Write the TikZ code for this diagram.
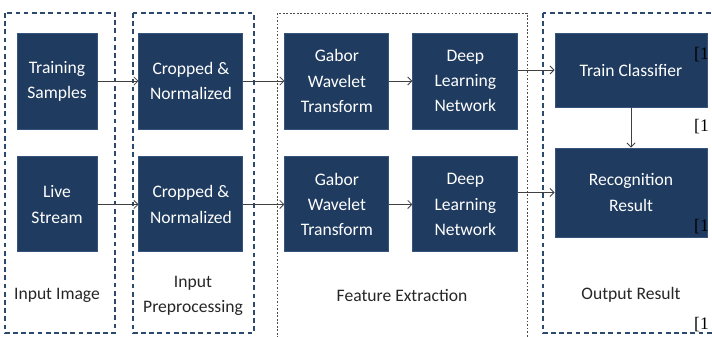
\documentclass[tikz,border=0pt]{standalone}
\usepackage{fontspec}
\setmainfont{Carlito}
\newfontfamily\citefont{Liberation Serif}
\usetikzlibrary{positioning,arrows.meta}

\definecolor{boxblue}{HTML}{1F3B5F}
\definecolor{boxedge}{HTML}{35557D}
\definecolor{stageblue}{HTML}{2C4A6E}

\begin{document}
\begin{tikzpicture}[
        x=0.03cm, y=-0.03cm,
        node distance=0.81cm and 1.23cm,
        block/.style={rectangle, draw=boxedge, line width=0.8pt, fill=boxblue, text=white, align=center, inner sep=0pt, font=\fontsize{15}{21.5}\selectfont},
        flow/.style={-{Straight Barb[length=3.5pt,width=7pt]}, draw=black!75, line width=0.7pt},
        stage/.style={draw=stageblue, line width=1pt, dash pattern=on 4pt off 3pt},
        fine/.style={draw=black!70, line width=0.6pt, dash pattern=on 1.5pt off 1.5pt},
    caption/.style={align=center, text=black!85, font=\fontsize{15}{21.5}\selectfont},
    cite/.style={anchor=west, inner sep=0pt, font=\citefont\fontsize{15}{18}\selectfont}
    ]

    \path[use as bounding box, clip] (0,0) rectangle (712,336);

    % stage frames
    \draw[stage] (5,13) rectangle (115,333);
    \draw[stage] (133,13) rectangle (254,333);
    \draw[fine] (277,13) rectangle (527,345);
    \draw[stage] (543,13) rectangle (725,333);

    \node[block, minimum width=2.4cm, minimum height=2.88cm] (train) at (57,81) {Training\\Samples};
    \node[block, minimum width=2.4cm, minimum height=2.85cm, below=of train] (live) {Live\\Stream};
    \node[block, minimum width=3.12cm, minimum height=2.88cm, right=of train] (crop1) {Cropped \&\\Normalized};
    \node[block, minimum width=3.12cm, minimum height=2.85cm, right=of live] (crop2) {Cropped \&\\Normalized};
    \node[block, minimum width=3.12cm, minimum height=2.88cm, right=of crop1] (gabor1) {Gabor\\Wavelet\\Transform};
    \node[block, minimum width=3.12cm, minimum height=2.85cm, right=of crop2] (gabor2) {Gabor\\Wavelet\\Transform};
    \node[block, minimum width=3.15cm, minimum height=2.88cm, right=0.69cm of gabor1] (deep1) {Deep\\Learning\\Network};
    \node[block, minimum width=3.15cm, minimum height=2.85cm, right=0.69cm of gabor2] (deep2) {Deep\\Learning\\Network};
    \node[block, minimum width=4.56cm, minimum height=2.22cm] (classifier) at (631,70) {Train Classifier};
    \node[block, minimum width=4.56cm, minimum height=2.67cm] (recog) at (631,192.5) {Recognition\\Result};

\draw[flow] (train) -- (crop1);
\draw[flow] (crop1) -- (gabor1);
\draw[flow] (gabor1) -- (deep1);
\draw[flow] (deep1.east |- classifier) -- (classifier);
\draw[flow] (classifier) -- (recog);

\draw[flow] (live) -- (crop2);
\draw[flow] (crop2) -- (gabor2);
\draw[flow] (gabor2) -- (deep2);
\draw[flow] (deep2.east |- recog) -- (recog);

    % stage captions
    \node[caption] (inimg) at (57,295) {Input Image};
    \node[caption] (prep) at (193,296) {Input\\Preprocessing};
    \node[caption] (feat) at (402,295) {Feature Extraction};
    \node[caption] (outres) at (631,295) {Output Result};

    % page references at the right edge
    \node[cite] (ref1) at (694,55) {[1};
    \node[cite] (ref2) at (694,127) {[1};
    \node[cite] (ref3) at (694,227) {[1};
    \node[cite] (ref4) at (694,325) {[1};

    \end{tikzpicture}
\end{document}
